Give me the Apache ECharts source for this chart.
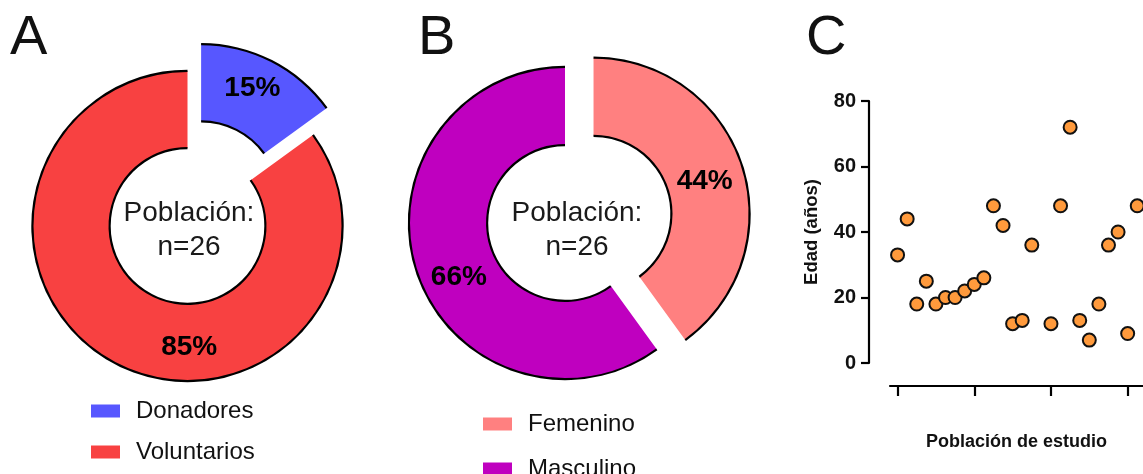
<!DOCTYPE html>
<html>
<head>
<meta charset="utf-8">
<script src="https://cdn.jsdelivr.net/npm/echarts@6/dist/echarts.min.js"></script>
<style>
html,body{margin:0;padding:0;background:#fff;}
#chart{width:1143px;height:474px;}
</style>
</head>
<body>
<div id="chart"></div>
<script>
// Panel A
const donorCats = ['Donadores', 'Voluntarios'];
const donorPct = [15, 85];
// Panel B
const sexCats = ['Femenino', 'Masculino'];
const sexPct = [44, 66];
// Panel C
const ages = [33, 44, 18, 25, 18, 20, 20, 22, 24, 26, 48, 42, 12, 13, 36, null, 12, 48, 72, 13, 7, 18, 36, 40, 9, 48];
const yTicks = [0, 20, 40, 60, 80];
const xTickIdx = [0, 8, 16, 24];

const FONT = "'Liberation Sans', Arial, sans-serif";
const colorsA = ['#5757FF', '#F84141'];
const colorsB = ['#FF8080', '#BF00BF'];

function pieData(cats, vals, colors, selIdx) {
  return cats.map((c, i) => ({
    name: c, value: vals[i], selected: i === selIdx,
    itemStyle: colors ? { color: colors[i] } : undefined
  }));
}

function donut(center, radius, cats, vals, colors, labelShift) {
  const common = {
    type: 'pie', center: center, startAngle: 90, clockwise: true,
    selectedMode: 'single', selectedOffset: 30, animation: false, silent: true,
    emphasis: { disabled: true }
  };
  const main = Object.assign({}, common, {
    radius: radius,
    data: pieData(cats, vals, colors, 0),
    itemStyle: { borderWidth: 0 },
    select: { itemStyle: { borderWidth: 0 } },
    label: {
      show: true, position: 'inside', formatter: '{c}%',
      fontFamily: FONT, fontWeight: 'bold', fontSize: 28, color: '#000'
    },
    labelLine: { show: false },
    labelLayout: function (p) { const s = labelShift[p.dataIndex]; return { dx: s[0], dy: s[1] }; }
  });
  const rim = (r0, r1) => Object.assign({}, common, {
    radius: [r0, r1], z: 3,
    data: pieData(cats, vals, null, 0),
    itemStyle: { color: '#000', borderWidth: 0 },
    select: { itemStyle: { color: '#000', borderWidth: 0 } },
    label: { show: false }, labelLine: { show: false }
  });
  return [main, rim(radius[1] - 1, radius[1] + 1.2), rim(radius[0] - 1.2, radius[0] + 1)];
}

function legendItem(name, left, top) {
  return {
    data: [name], orient: 'vertical', left: left, top: top,
    icon: 'rect', itemWidth: 29, itemHeight: 13, selectedMode: false,
    textStyle: { fontFamily: FONT, fontSize: 24, color: '#111', lineHeight: 30, padding: [0, 0, 0, 11] }
  };
}

const chart = echarts.init(document.getElementById('chart'), null, { renderer: 'canvas' });

const scatterData = [];
ages.forEach((v, i) => { if (v !== null) scatterData.push([i, v]); });

const option = {
  animation: false,
  backgroundColor: '#fff',
  textStyle: { fontFamily: FONT },
  legend: [
    legendItem(donorCats[0], 86, 391),
    legendItem(donorCats[1], 86, 432),
    legendItem(sexCats[0], 478, 404),
    legendItem(sexCats[1], 478, 449)
  ],
  grid: { left: 890, top: 101, width: 258, height: 262 },
  xAxis: {
    type: 'value', min: -0.79, max: 25.6, offset: 23,
    name: 'Población de estudio', nameLocation: 'middle', nameGap: 47,
    nameTextStyle: { fontFamily: FONT, fontWeight: 'bold', fontSize: 18, color: '#111' },
    axisLine: { show: true, onZero: false, lineStyle: { color: '#000', width: 2.2 } },
    axisTick: { show: true, customValues: xTickIdx, length: 10, lineStyle: { color: '#000', width: 2.2 } },
    axisLabel: { show: false },
    splitLine: { show: false }
  },
  yAxis: {
    type: 'value', min: 0, max: 80, interval: 20, offset: 21,
    name: 'Edad (años)', nameLocation: 'middle', nameGap: 48, nameRotate: 90,
    nameTextStyle: { fontFamily: FONT, fontWeight: 'bold', fontSize: 18.5, color: '#111' },
    axisLine: { show: true, onZero: false, lineStyle: { color: '#000', width: 2.2 } },
    axisTick: { show: true, length: 8, lineStyle: { color: '#000', width: 2.2 } },
    axisLabel: { fontFamily: FONT, fontWeight: 'bold', fontSize: 20, color: '#111', margin: 13, customValues: yTicks },
    splitLine: { show: false }
  },
  series: [
    ...donut([187.5, 226], [78, 155], donorCats, donorPct, colorsA, [[-3, -5], [56, 15]]),
    ...donut([565, 223], [78, 156], sexCats, sexPct, colorsB, [[-3, 5], [8, 17]]),
    {
      type: 'scatter', data: scatterData, symbol: 'circle', symbolSize: 13,
      itemStyle: { color: '#FF9A3C', borderColor: '#111', borderWidth: 2, opacity: 1 },
      emphasis: { disabled: true }, silent: true, clip: false
    }
  ],
  graphic: [
    { type: 'text', x: 10, y: 67, style: { text: 'A', font: '56px ' + FONT, fill: '#111', align: 'left', verticalAlign: 'bottom' } },
    { type: 'text', x: 418, y: 67, style: { text: 'B', font: '56px ' + FONT, fill: '#111', align: 'left', verticalAlign: 'bottom' } },
    { type: 'text', x: 806, y: 67, style: { text: 'C', font: '56px ' + FONT, fill: '#111', align: 'left', verticalAlign: 'bottom' } },
    { type: 'text', x: 189, y: 230, style: { text: 'Población:\nn=26', font: '28px ' + FONT, lineHeight: 34, fill: '#1a1a1a', align: 'center', verticalAlign: 'middle' } },
    { type: 'text', x: 577, y: 230, style: { text: 'Población:\nn=26', font: '28px ' + FONT, lineHeight: 34, fill: '#1a1a1a', align: 'center', verticalAlign: 'middle' } }
  ]
};
chart.setOption(option);
</script>
</body>
</html>
